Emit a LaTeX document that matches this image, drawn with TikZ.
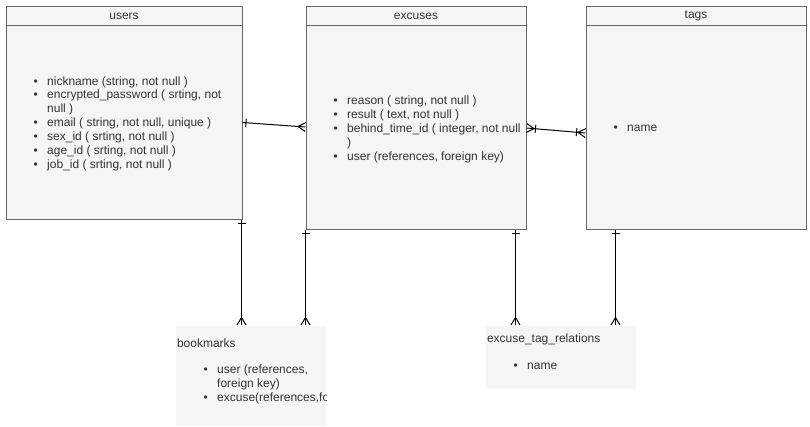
\documentclass[tikz,border=0pt]{standalone}
\usepackage{fontspec}
\setmainfont{Liberation Sans}
\usepackage{array}

\definecolor{tblborder}{HTML}{666666}
\definecolor{tblfill}{HTML}{F5F5F5}
\definecolor{txtgray}{HTML}{333333}

\newcommand{\erfont}{\fontsize{12}{13.9}\selectfont}

% ER ends: bar (one), crow's foot (many), both
\pgfdeclarearrow{
  name = erone,
  setup code = {\pgfarrowssettipend{0pt}\pgfarrowssetbackend{-4pt}\pgfarrowssetlineend{0pt}},
  drawing code = {
    \pgfpathmoveto{\pgfpoint{-3.5pt}{4pt}}\pgfpathlineto{\pgfpoint{-3.5pt}{-4pt}}
    \pgfusepathqstroke}
}
\pgfdeclarearrow{
  name = ermany,
  setup code = {\pgfarrowssettipend{0pt}\pgfarrowssetbackend{-7.5pt}\pgfarrowssetlineend{0pt}},
  drawing code = {
    \pgfpathmoveto{\pgfpoint{0pt}{4.5pt}}\pgfpathlineto{\pgfpoint{-7.5pt}{0pt}}
    \pgfpathlineto{\pgfpoint{0pt}{-4.5pt}}
    \pgfusepathqstroke}
}
\pgfdeclarearrow{
  name = eronemany,
  setup code = {\pgfarrowssettipend{0pt}\pgfarrowssetbackend{-10pt}\pgfarrowssetlineend{0pt}},
  drawing code = {
    \pgfpathmoveto{\pgfpoint{0pt}{4.5pt}}\pgfpathlineto{\pgfpoint{-7.5pt}{0pt}}
    \pgfpathlineto{\pgfpoint{0pt}{-4.5pt}}
    \pgfpathmoveto{\pgfpoint{-9pt}{4pt}}\pgfpathlineto{\pgfpoint{-9pt}{-4pt}}
    \pgfusepathqstroke}
}

\begin{document}
\begin{tikzpicture}[x=1pt, y=-1pt, line width=1pt,
    tbl/.style={draw=tblborder, fill=tblfill, anchor=north west, inner sep=0pt},
    note/.style={fill=tblfill, anchor=north west, inner sep=0pt},
    hdr/.style={font=\erfont, text=txtgray, inner sep=0pt},
    lst/.style={font=\erfont, text=txtgray, inner sep=0pt, anchor=west},
    rel/.style={black, line width=1pt}]
  \useasboundingbox (0,0) rectangle (810,426);

  % tables
  \node[tbl, minimum width=236pt, minimum height=213pt] (users) at (5.5,5.5) {};
  \node[tbl, minimum width=220pt, minimum height=223pt] (excuses) at (305.5,5.5) {};
  \node[tbl, minimum width=220pt, minimum height=223pt] (tags) at (585.5,5.5) {};
  \node[note, minimum width=150pt, minimum height=100pt] (bookmarks) at (175.5,325) {};
  \node[note, minimum width=150pt, minimum height=63pt] (relations) at (485.5,325) {};

  \foreach \t in {users, excuses, tags} {
      \draw[tblborder] ([yshift=-19.5pt]\t.north west) -- ([yshift=-19.5pt]\t.north east);
      \node[hdr] (\t head) at ([yshift=-10.5pt]\t.north) {\t};
    }

  \node[lst] (userslist) at (33,124) {\begin{tabular}{@{}p{13.7pt}@{}l@{}}
      \textbullet & nickname (string, not null )\\
      \textbullet & encrypted\_password ( srting, not\\
                  & null )\\
      \textbullet & email ( string, not null, unique )\\
      \textbullet & sex\_id ( srting, not null )\\
      \textbullet & age\_id ( srting, not null )\\
      \textbullet & job\_id ( srting, not null )
    \end{tabular}};
  \node[lst] (excuseslist) at (333,129.5) {\begin{tabular}{@{}p{13.7pt}@{}l@{}}
      \textbullet & reason ( string, not null )\\
      \textbullet & result ( text, not null )\\
      \textbullet & behind\_time\_id ( integer, not null\\
                  & )\\
      \textbullet & user (references, foreign key)
    \end{tabular}};
  \node[lst] (tagslist) at (613,129.2) {\begin{tabular}{@{}p{13.7pt}@{}l@{}}
      \textbullet & name
    \end{tabular}};

  \begin{scope}
    \clip (bookmarks.north west) rectangle (bookmarks.south east);
    \node[lst, anchor=base west] (bookmarkshead) at (176.5,347.5) {bookmarks};
    \node[lst] (bookmarkslist) at (203,384.8) {\begin{tabular}{@{}p{13.7pt}@{}l@{}}
        \textbullet & user (references,\\
                    & foreign key)\\
        \textbullet & excuse(references,foreign key)
      \end{tabular}};
  \end{scope}

  \node[lst, anchor=base west] (relationshead) at (486.5,342.5) {excuse\_tag\_relations};
  \node[lst] (relationslist) at (513,366.5) {\begin{tabular}{@{}p{13.7pt}@{}l@{}}
      \textbullet & name
    \end{tabular}};

  % relations
  \draw[rel, {erone}-{ermany}] ([yshift=-10pt]users.east) -- ([yshift=-9.5pt]excuses.west);
  \draw[rel, {eronemany}-{eronemany}] ([yshift=-10.5pt]excuses.east) -- ([yshift=-15.5pt]tags.west);
  \draw[rel, {erone}-{ermany}] ([xshift=-1pt]users.south east) -- ([xshift=-1pt]users.south east |- bookmarks.north);
  \draw[rel, {erone}-{ermany}] (excuses.south west) -- (excuses.south west |- bookmarks.north);
  \draw[rel, {erone}-{ermany}] ([xshift=-11pt]excuses.south east) -- ([xshift=-11pt]excuses.south east |- relations.north);
  \draw[rel, {erone}-{ermany}] ([xshift=30pt]tags.south west) -- ([xshift=30pt]tags.south west |- relations.north);
\end{tikzpicture}
\end{document}
